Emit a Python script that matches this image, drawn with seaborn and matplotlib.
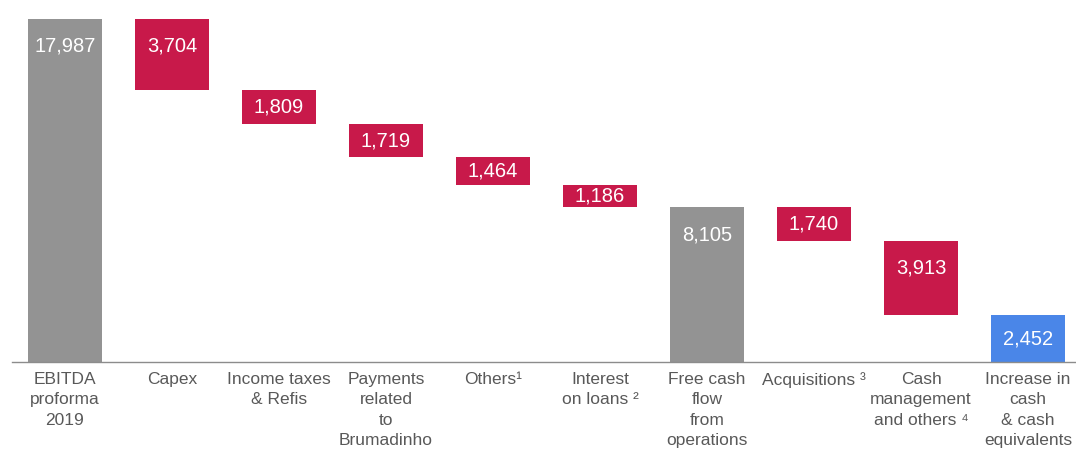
import matplotlib
matplotlib.use("Agg")
import matplotlib.pyplot as plt
import seaborn as sns
import pandas as pd

categories = [
    "EBITDA\nproforma\n2019",
    "Capex",
    "Income taxes\n& Refis",
    "Payments\nrelated\nto\nBrumadinho",
    "Others\u00b9",
    "Interest\non loans \u00b2",
    "Free cash\nflow\nfrom\noperations",
    "Acquisitions \u00b3",
    "Cash\nmanagement\nand others \u2074",
    "Increase in\ncash\n& cash\nequivalents",
]
values = [17987, 3704, 1809, 1719, 1464, 1186, 8105, 1740, 3913, 2452]
kinds = ["total", "neg", "neg", "neg", "neg", "neg", "total", "neg", "neg", "result"]
value_labels = ["17,987", "3,704", "1,809", "1,719", "1,464", "1,186", "8,105", "1,740", "3,913", "2,452"]

kind_colors = {"total": "#939393", "neg": "#C8194A", "result": "#4A86E8"}

sns.set_theme(style="white")
plt.rcParams["font.family"] = ["Liberation Sans", "DejaVu Sans"]

# compute floating bottoms
bottoms = []
running = 0
for v, k in zip(values, kinds):
    if k in ("total", "result"):
        bottoms.append(0)
        running = v
    else:
        running -= v
        bottoms.append(running)

df = pd.DataFrame({"cat": categories, "val": values, "kind": kinds})

fig = plt.figure(figsize=(10.76, 4.49), dpi=100)
ax = fig.add_axes([11.5 / 1076, 87 / 449, 1070 / 1076, 343 / 449])

sns.barplot(data=df, x="cat", y="val", hue="cat",
            palette=[kind_colors[k] for k in kinds],
            width=0.70, legend=False, ax=ax, saturation=1, linewidth=0)

for p, b in zip(ax.patches, bottoms):
    p.set_y(b)

for i, (v, b, lab) in enumerate(zip(values, bottoms, value_labels)):
    top = b + v
    off = min(v / 2, 1420)
    ax.text(i, top - off, lab, ha="center", va="center", color="white",
            fontsize=14.5)

ax.set_ylim(0, 17987)
ax.set_xlim(-0.5, 9.5)
ax.set_xlabel("")
ax.set_ylabel("")
ax.set_yticks([])
for s in ["top", "right", "left"]:
    ax.spines[s].set_visible(False)
ax.spines["bottom"].set_color("#8C8C8C")
ax.spines["bottom"].set_linewidth(1.0)

ax.set_xticks(range(len(categories)))
ax.set_xticklabels(categories, fontsize=12.5, color="#595959", linespacing=1.45,
                   va="top")
ax.tick_params(axis="x", length=0, pad=7)
# boundary ticks
ax.set_xticks([i - 0.5 for i in range(len(categories))], minor=True)
ax.tick_params(axis="x", which="minor", length=4, width=1, color="#8C8C8C",
               direction="out")

fig.savefig("out.png", dpi=100, facecolor="white")
